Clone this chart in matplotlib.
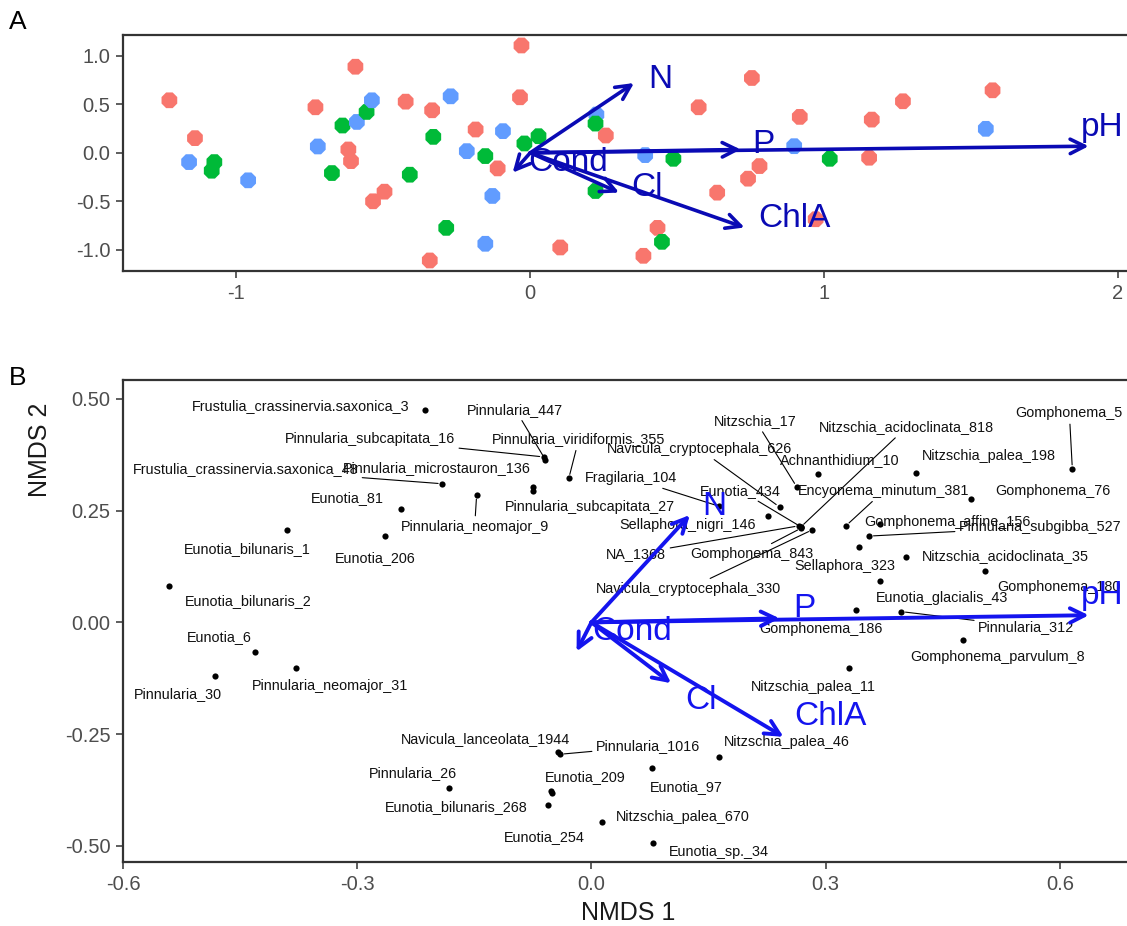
import numpy as np
import matplotlib
matplotlib.use("Agg")
import matplotlib.pyplot as plt

plt.rcParams['font.family'] = ['Liberation Sans', 'DejaVu Sans']
plt.rcParams['axes.unicode_minus'] = False

# ---- panel A: site scores ----
siteA_x = [-1.228, -1.141, -1.161, -1.075, -1.084, -0.960, -0.731, -0.723, -0.595, -0.639,
           -0.590, -0.557, -0.539, -0.619, -0.610, -0.675, -0.496, -0.535, -0.424, -0.334,
           -0.330, -0.410, -0.271, -0.186, -0.093, -0.216, -0.153, -0.111, -0.129, -0.286,
           -0.153, -0.342, -0.030, -0.035, -0.020, 0.028, 0.102, 0.225, 0.222, 0.257,
           0.391, 0.487, 0.222, 0.780, 0.741, 0.636, 0.573, 0.754, 0.917, 0.898,
           1.019, 1.162, 1.153, 1.268, 1.573, 1.550, 0.971, 0.433, 0.448, 0.385]
siteA_y = [0.541, 0.151, -0.096, -0.096, -0.185, -0.284, 0.469, 0.065, 0.887, 0.281,
           0.318, 0.421, 0.541, 0.034, -0.086, -0.209, -0.401, -0.500, 0.527, 0.438,
           0.164, -0.226, 0.582, 0.240, 0.223, 0.017, -0.034, -0.161, -0.445, -0.774,
           -0.938, -1.110, 1.106, 0.572, 0.096, 0.171, -0.976, 0.394, 0.301, 0.178,
           -0.024, -0.062, -0.394, -0.137, -0.267, -0.411, 0.469, 0.771, 0.370, 0.068,
           -0.062, 0.342, -0.051, 0.531, 0.644, 0.247, -0.685, -0.774, -0.918, -1.062]
siteA_group = ['a', 'a', 'c', 'b', 'b', 'c', 'a', 'c', 'a', 'b',
               'c', 'b', 'c', 'a', 'a', 'b', 'a', 'a', 'a', 'a',
               'b', 'b', 'c', 'a', 'c', 'c', 'b', 'a', 'c', 'b',
               'c', 'a', 'a', 'a', 'b', 'b', 'a', 'c', 'b', 'a',
               'c', 'b', 'b', 'a', 'a', 'a', 'a', 'a', 'a', 'c',
               'b', 'a', 'a', 'a', 'a', 'c', 'a', 'a', 'b', 'a']
group_colors = {'a': '#F8766D', 'b': '#00BA38', 'c': '#619CFF'}

# ---- environmental vectors ----
env_names = ['N', 'P', 'pH', 'Cl', 'ChlA', 'Cond']
envA_x = [0.353, 0.716, 1.900, 0.302, 0.729, -0.060]
envA_y = [0.719, 0.034, 0.068, -0.410, -0.770, -0.205]
envB_x = [0.126, 0.241, 0.637, 0.102, 0.246, -0.019]
envB_y = [0.240, 0.009, 0.016, -0.136, -0.256, -0.065]

# ---- panel B: species scores ----
species = ['Frustulia_crassinervia.saxonica_3', 'Pinnularia_subcapitata_16', 'Pinnularia_447',
           'Frustulia_crassinervia.saxonica_48', 'Pinnularia_microstauron_136', 'Pinnularia_subcapitata_27',
           'Pinnularia_viridiformis_355', 'Pinnularia_neomajor_9', 'Eunotia_81', 'Eunotia_bilunaris_1',
           'Eunotia_206', 'Eunotia_bilunaris_2', 'Eunotia_6', 'Pinnularia_30', 'Pinnularia_neomajor_31',
           'Fragilaria_104', 'Navicula_cryptocephala_626', 'Sellaphora_nigri_146', 'Nitzschia_17',
           'Eunotia_434', 'Nitzschia_acidoclinata_818', 'NA_1368', 'Gomphonema_843',
           'Navicula_cryptocephala_330', 'Achnanthidium_10', 'Encyonema_minutum_381',
           'Gomphonema_affine_156', 'Pinnularia_subgibba_527', 'Sellaphora_323',
           'Nitzschia_acidoclinata_35', 'Gomphonema_180', 'Eunotia_glacialis_43', 'Gomphonema_186',
           'Pinnularia_312', 'Gomphonema_parvulum_8', 'Nitzschia_palea_11', 'Nitzschia_palea_198',
           'Gomphonema_5', 'Gomphonema_76', 'Navicula_lanceolata_1944', 'Pinnularia_1016',
           'Pinnularia_26', 'Eunotia_209', 'Eunotia_bilunaris_268', 'Eunotia_254',
           'Nitzschia_palea_670', 'Eunotia_97', 'Nitzschia_palea_46', 'Eunotia_sp._34']
nmds1 = [-0.213, -0.061, -0.059, -0.191, -0.075, -0.075, -0.029, -0.147, -0.244, -0.390,
         -0.265, -0.541, -0.431, -0.482, -0.379, 0.163, 0.241, 0.226, 0.263, 0.268,
         0.268, 0.266, 0.269, 0.283, 0.290, 0.326, 0.369, 0.356, 0.343, 0.403,
         0.504, 0.370, 0.339, 0.397, 0.476, 0.330, 0.416, 0.616, 0.486, -0.043,
         -0.040, -0.183, -0.052, -0.050, -0.056, 0.014, 0.077, 0.163, 0.079]
nmds2 = [0.474, 0.370, 0.364, 0.310, 0.303, 0.294, 0.322, 0.285, 0.253, 0.207,
         0.194, 0.082, -0.066, -0.121, -0.103, 0.260, 0.258, 0.238, 0.303, 0.214,
         0.213, 0.216, 0.211, 0.207, 0.332, 0.216, 0.220, 0.193, 0.169, 0.146,
         0.115, 0.093, 0.028, 0.024, -0.039, -0.102, 0.335, 0.343, 0.275, -0.290,
         -0.295, -0.371, -0.377, -0.382, -0.408, -0.446, -0.326, -0.302, -0.494]

# label placement (pixels from point, ggrepel-like) and whether a segment is drawn
lab_dx = [-124, -174, -30, -197, -96, 57, 10, -2, -54, -40,
          -9, 79, -36, -37, 35, -88, -80, -80, -41, -60,
          106, -163, -50, -124, 22, 38, 68, 171, -14, 99,
          74, 62, -35, 125, 35, -36, 73, -3, 82, -72,
          88, -36, 34, -96, -3, 80, 35, 68, 66]
lab_dy = [4, 18, 50, 15, 19, -16, 39, -32, 11, -19,
          -22, -15, 15, -18, -18, 28, 58, -9, 66, 36,
          100, -28, -26, -59, 14, 35, 2, 9, -19, 1,
          -16, -17, -19, -15, -17, -19, 17, 56, 8, 13,
          8, 15, 14, -14, -32, 5, -19, 15, -9]
lab_seg = [0, 1, 1, 1, 0, 0, 1, 1, 0, 0,
           0, 0, 0, 0, 0, 1, 1, 0, 1, 1,
           1, 1, 1, 1, 0, 1, 0, 1, 0, 0,
           0, 0, 0, 1, 0, 0, 0, 1, 0, 0,
           1, 0, 0, 0, 0, 0, 0, 0, 0]

fig = plt.figure(figsize=(11.27, 9.26), dpi=100)

def style_axes(ax):
    for s in ax.spines.values():
        s.set_color('#333333')
        s.set_linewidth(1.6)
    ax.tick_params(direction='out', length=5, width=1.1, color='#333333',
                   labelsize=14.5, labelcolor='#4D4D4D', pad=4)

# ---------- A ----------
axA = fig.add_axes([0.1091, 0.7073, 0.8960, 0.2549])
axA.set_xlim(-1.386, 2.05)
axA.set_ylim(-1.219, 1.214)
axA.scatter(siteA_x, siteA_y, c=[group_colors[g] for g in siteA_group],
            s=150, marker='8', linewidths=0, zorder=2)
colA = '#0A0AB4'
for name, x, y in zip(env_names, envA_x, envA_y):
    axA.annotate('', xy=(x, y), xytext=(0, 0),
                 arrowprops=dict(arrowstyle='->', color=colA, lw=2.6,
                                 mutation_scale=26, shrinkA=0, shrinkB=0), zorder=3)
labA_pos = {'N': (0.442, 0.753), 'P': (0.792, 0.086), 'pH': (1.945, 0.257),
            'Cl': (0.397, -0.363), 'ChlA': (0.90, -0.68), 'Cond': (0.128, -0.105)}
for name in env_names:
    axA.text(*labA_pos[name], name, color=colA, fontsize=24, ha='center', va='center', zorder=4)
axA.set_xticks([-1, 0, 1, 2])
axA.set_xticklabels(['-1', '0', '1', '2'])
axA.set_yticks([-1.0, -0.5, 0.0, 0.5, 1.0])
axA.set_yticklabels(['-1.0', '-0.5', '0.0', '0.5', '1.0'])
style_axes(axA)

# ---------- B ----------
axB = fig.add_axes([0.1091, 0.0691, 0.9006, 0.5205])
axB.set_xlim(-0.598, 0.70)
axB.set_ylim(-0.536, 0.542)
axB.scatter(nmds1, nmds2, s=20, color='black', linewidths=0, zorder=2)
for i, name in enumerate(species):
    props = None
    if lab_seg[i]:
        props = dict(arrowstyle='-', color='black', lw=0.8, shrinkA=1, shrinkB=3)
    axB.annotate(name, xy=(nmds1[i], nmds2[i]), xytext=(lab_dx[i], lab_dy[i]),
                 textcoords='offset pixels', ha='center', va='center',
                 fontsize=10.4, color='#111111', arrowprops=props, zorder=3,
                 annotation_clip=False)
colB = '#1414EE'
for name, x, y in zip(env_names, envB_x, envB_y):
    axB.annotate('', xy=(x, y), xytext=(0, 0),
                 arrowprops=dict(arrowstyle='->', color=colB, lw=2.8,
                                 mutation_scale=26, shrinkA=0, shrinkB=0), zorder=4)
labB_pos = {'N': (0.157, 0.259), 'P': (0.273, 0.032), 'pH': (0.654, 0.061),
            'Cl': (0.140, -0.174), 'ChlA': (0.306, -0.211), 'Cond': (0.052, -0.020)}
for name in env_names:
    axB.text(*labB_pos[name], name, color=colB, fontsize=24, ha='center', va='center', zorder=5)
axB.set_xticks([-0.6, -0.3, 0.0, 0.3, 0.6])
axB.set_xticklabels(['-0.6', '-0.3', '0.0', '0.3', '0.6'])
axB.set_yticks([-0.50, -0.25, 0.0, 0.25, 0.50])
axB.set_yticklabels(['-0.50', '-0.25', '0.00', '0.25', '0.50'])
style_axes(axB)

fig.text(628 / 1127, 1 - 913 / 926, 'NMDS 1', fontsize=18, ha='center', va='center', color='#1a1a1a')
fig.text(40 / 1127, 1 - 450 / 926, 'NMDS 2', fontsize=18, ha='center', va='center',
         rotation=90, color='#1a1a1a')

fig.text(18 / 1127, 1 - 22 / 926, 'A', fontsize=19, ha='center', va='center')
fig.text(18 / 1127, 1 - 378 / 926, 'B', fontsize=19, ha='center', va='center')

fig.savefig('out.png', dpi=100)
